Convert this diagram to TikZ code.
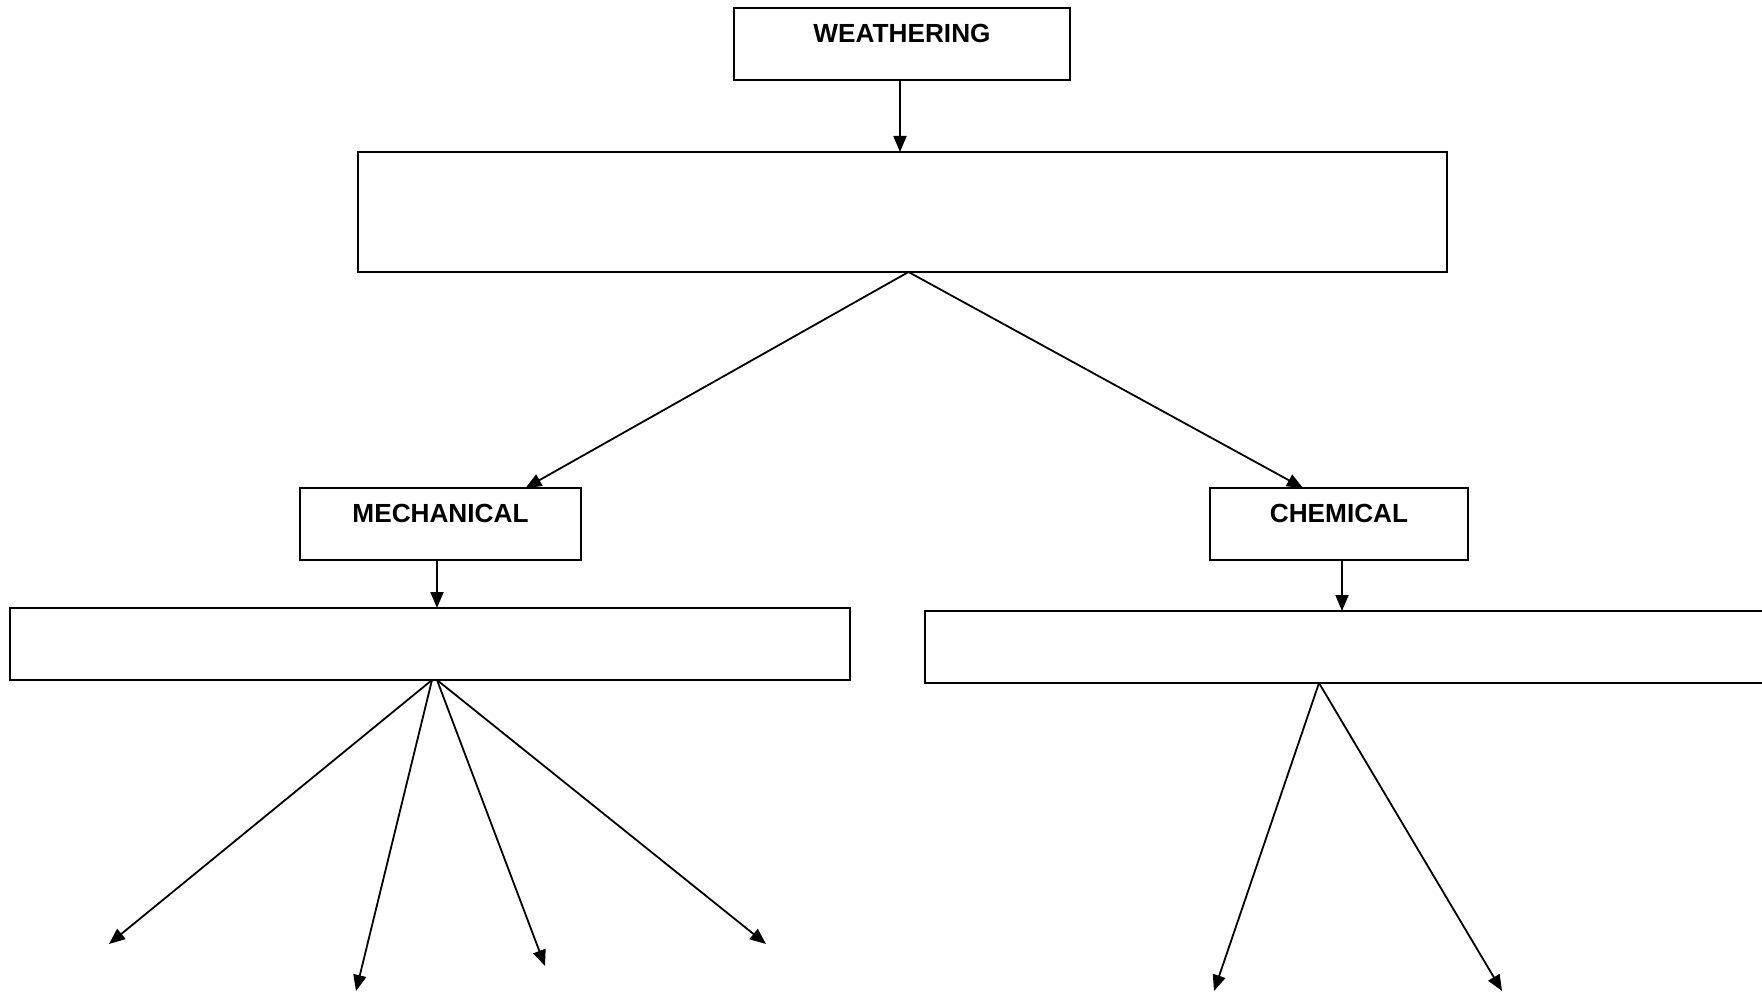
\documentclass[tikz,border=0pt]{standalone}
\usepackage{fontspec}
\setmainfont{Liberation Sans}
\usetikzlibrary{arrows.meta}

\begin{document}
\begin{tikzpicture}[x=0.5pt,y=-0.5pt,line width=0.9pt,
  box/.style={draw,inner sep=0pt,outer sep=0pt},
  titled/.style={box,font=\fontsize{13.1}{15}\bfseries,text height=17.5pt,text depth=18.5pt},
  arr/.style={-{Triangle[length=8pt,width=6.5pt]}}]
\useasboundingbox (0,0) rectangle (1762,994);

\path (902,44) node[titled,minimum width=168pt] (W) {WEATHERING};
\path (902.5,212) node[box,minimum width=544.5pt,minimum height=60pt] (types) {};
\path (440.5,524) node[titled,minimum width=140.5pt] (mech) {MECHANICAL};
\path (1339,524) node[titled,minimum width=129pt] (chem) {CHEMICAL};
\path (430,644) node[box,minimum width=420pt,minimum height=36pt] (mechbox) {};
\path (1357.5,647) node[box,minimum width=432.5pt,minimum height=36pt] (chembox) {};

% free ends of the lower arrows
\coordinate (m1) at (109,944);
\coordinate (m2) at (356,991);
\coordinate (m3) at (545,966);
\coordinate (m4) at (766,944);
\coordinate (c1) at (1214,991);
\coordinate (c2) at (1502,991);

\path[arr] ([xshift=-1pt]W.south) edge ([xshift=-1pt]W.south |- types.north);
\path[arr] ([xshift=3pt]types.south) edge ([xshift=42.5pt]mech.north);
\path[arr] ([xshift=3pt]types.south) edge ([xshift=-18pt]chem.north);
\path[arr] ([xshift=-1.75pt]mech.south) edge ([xshift=-1.75pt]mech.south |- mechbox.north);
\path[arr] ([xshift=1.5pt]chem.south) edge ([xshift=1.5pt]chem.south |- chembox.north);

\path[arr] ([xshift=1pt]mechbox.south) edge (m1);
\path[arr] ([xshift=1pt]mechbox.south) edge (m2);
\path[arr] ([xshift=3.5pt]mechbox.south) edge (m3);
\path[arr] ([xshift=3.5pt]mechbox.south) edge (m4);
\path[arr] ([xshift=-19.25pt]chembox.south) edge (c1);
\path[arr] ([xshift=-19.25pt]chembox.south) edge (c2);

\end{tikzpicture}
\end{document}
